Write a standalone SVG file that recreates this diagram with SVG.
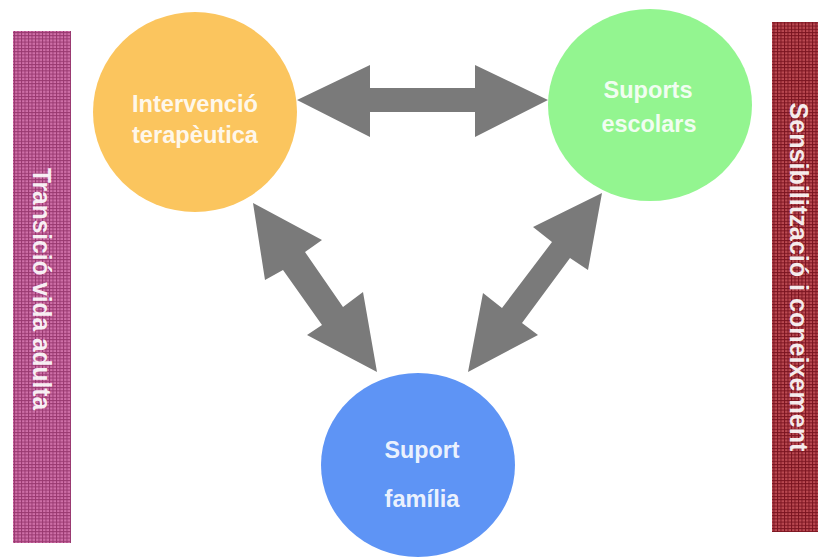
<svg xmlns="http://www.w3.org/2000/svg" width="820" height="558" viewBox="0 0 820 558">
<defs>
<pattern id="gridPink" width="3.5" height="3.2" patternUnits="userSpaceOnUse">
<rect width="3.5" height="3.2" fill="#cf70a8"/>
<path d="M0 0.5H3.5M0.5 0V3.2" stroke="#98386f" stroke-width="1"/>
</pattern>
<pattern id="gridRed" width="3.5" height="3.2" patternUnits="userSpaceOnUse">
<rect width="3.5" height="3.2" fill="#bb4a52"/>
<path d="M0 0.5H3.5M0.5 0V3.2" stroke="#7a1420" stroke-width="1"/>
</pattern>
</defs>
<style>
.lbl{font-family:"Liberation Sans",Arial,sans-serif;font-weight:bold;font-size:24px;fill:#ffffff;fill-opacity:0.9;text-anchor:middle}
.side{font-family:"Liberation Sans",Arial,sans-serif;font-weight:bold;font-size:26px;fill:#ffffff;fill-opacity:0.92;text-anchor:middle}
.arrow{fill:#7a7a7a}
</style>
<rect width="820" height="558" fill="#ffffff"/>
<g id="bar-left">
<rect x="13" y="31" width="58" height="512" fill="url(#gridPink)"/>
<text class="side" transform="translate(33,289) rotate(90)" textLength="242" lengthAdjust="spacingAndGlyphs">Transició vida adulta</text>
</g>
<g id="bar-right">
<rect x="772" y="22" width="46" height="510" fill="url(#gridRed)"/>
<text class="side" transform="translate(790,277) rotate(90)" textLength="349" lengthAdjust="spacingAndGlyphs">Sensibilització i coneixement</text>
</g>
<g id="connectors">
<polygon class="arrow" points="297,100 370,65 370,88 475,88 475,65 548,100 475,137 475,112 370,112 370,137"/>
<polygon class="arrow" points="253,203 322,240 305,252 343,307 363,292 377,372 307,335 322,325 283,270 265,280"/>
<polygon class="arrow" points="602,193 588,270 570,258 522,323 538,335 468,372 483,293 502,308 552,242 533,227"/>
</g>
<g id="node-intervencio">
<ellipse cx="195" cy="112" rx="102" ry="100" fill="#fbc55e"/>
<text class="lbl" x="195" y="112" textLength="126" lengthAdjust="spacingAndGlyphs">Intervenció</text>
<text class="lbl" x="195" y="143" textLength="126" lengthAdjust="spacingAndGlyphs">terapèutica</text>
</g>
<g id="node-suports">
<ellipse cx="650" cy="105" rx="102" ry="96" fill="#93f590"/>
<text class="lbl" x="648" y="98" textLength="89" lengthAdjust="spacingAndGlyphs">Suports</text>
<text class="lbl" x="649" y="132" textLength="95" lengthAdjust="spacingAndGlyphs">escolars</text>
</g>
<g id="node-familia">
<ellipse cx="418" cy="465" rx="97" ry="92" fill="#5e94f5"/>
<text class="lbl" x="422" y="458" textLength="75" lengthAdjust="spacingAndGlyphs">Suport</text>
<text class="lbl" x="422" y="507" textLength="75" lengthAdjust="spacingAndGlyphs">família</text>
</g>
</svg>
